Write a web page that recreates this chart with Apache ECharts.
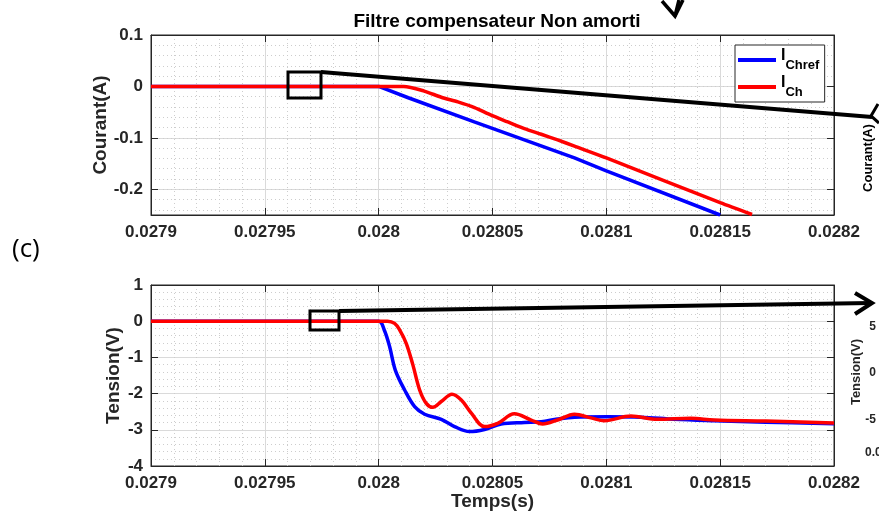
<!DOCTYPE html>
<html>
<head>
<meta charset="utf-8">
<script src="https://cdn.jsdelivr.net/npm/echarts@6/dist/echarts.min.js"></script>
<style>
  html, body { margin: 0; padding: 0; background: #fff; }
  #chart { width: 879px; height: 522px; }
</style>
</head>
<body>
<div id="chart"></div>
<script>
// ---------------- DATA ----------------
const titleText = 'Filtre compensateur Non amorti';
const xMin = 0.0279, xMax = 0.0282, xStep = 0.00005;
const courantMin = -0.25, courantMax = 0.1;
const tensionMin = -4, tensionMax = 1, tensionStep = 1;

// Courant : I_Chref (blue)
const tCourantRef = [0.0279, 0.02795, 0.028, 0.028013, 0.028042, 0.028086, 0.0281, 0.02815];
const iChref      = [0, 0, 0, -0.022, -0.069, -0.139, -0.164, -0.25];

// Courant : I_Ch (red)
const tCourantCh = [0.0279, 0.02795, 0.028, 0.028011, 0.02802, 0.0280275, 0.0280348, 0.0280421,
                    0.0280494, 0.0280567, 0.028064, 0.0280714, 0.0280786, 0.028086, 0.0281, 0.02815, 0.028164];
const iCh        = [0, 0, 0, 0, -0.009, -0.021, -0.030, -0.041,
                    -0.056, -0.069, -0.082, -0.093, -0.104, -0.116, -0.139, -0.226, -0.249];

// Tension : reference (blue)
const tTensionRef = [0.0279, 0.02795, 0.028, 0.0280025, 0.0280048, 0.0280073, 0.0280114, 0.0280158,
                     0.0280202, 0.0280275, 0.0280333, 0.0280399, 0.0280465, 0.0280538, 0.028064,
                     0.0280714, 0.0280786, 0.028086, 0.0281006, 0.0281152, 0.0281298, 0.0281474,
                     0.02817, 0.0282];
const vRef        = [0, 0, 0, -0.25, -0.70, -1.35, -1.90, -2.36,
                     -2.57, -2.71, -2.91, -3.05, -2.99, -2.84, -2.80,
                     -2.78, -2.70, -2.65, -2.64, -2.65, -2.71, -2.75,
                     -2.79, -2.83];

// Tension : charge (red)
const tTensionCh = [0.0279, 0.02795, 0.028, 0.0280039, 0.028007, 0.0280092, 0.0280121, 0.028015,
                    0.028018, 0.0280209, 0.0280238, 0.0280275, 0.0280322, 0.0280363, 0.0280407,
                    0.0280465, 0.0280523, 0.0280596, 0.028067, 0.028072, 0.0280786, 0.028086,
                    0.0280933, 0.0280991, 0.0281108, 0.0281225, 0.0281371, 0.0281474, 0.02817, 0.0282];
const vCh        = [0, 0, 0, 0, -0.06, -0.24, -0.61, -1.20,
                    -1.90, -2.27, -2.38, -2.22, -2.02, -2.18, -2.54,
                    -2.91, -2.82, -2.56, -2.73, -2.84, -2.73, -2.57,
                    -2.67, -2.75, -2.62, -2.71, -2.68, -2.73, -2.76, -2.81];

const legendNames = ['I_Chref', 'I_Ch'];
const legendSubs = { 'I_Chref': 'Chref', 'I_Ch': 'Ch' };
const axisNames = { courant: 'Courant(A)', tension: 'Tension(V)', temps: 'Temps(s)' };
const sideTexts = { courant: 'Courant(A)', tension: 'Tension(V)', ticks: ['5', '0', '-5'], cut: '0.0' };

// ---------------- HELPERS ----------------
const FONT = '"Liberation Sans", Arial, Helvetica, sans-serif';
const AXC = '#262626';
const pairs = (xs, ys) => xs.map((x, i) => [x, ys[i]]);
const fmt = v => {
  if (Math.abs(v - courantMin) < 1e-9) return '';
  return String(parseFloat(Number(v).toPrecision(6)));
};
const labelStyle = { color: AXC, fontSize: 17, fontWeight: 'bold', fontFamily: FONT };
const nameStyle = { color: AXC, fontSize: 19, fontWeight: 'bold', fontFamily: FONT };
const majorGrid = { show: true, lineStyle: { color: '#dadada', width: 1 } };
const minorGrid = { show: true, lineStyle: { color: '#cdcdcd', width: 1, type: [1, 3] } };

function xMain(gi, withName) {
  const a = {
    gridIndex: gi, type: 'value', min: xMin, max: xMax, interval: xStep, position: 'bottom',
    axisLine: { show: true, onZero: false, lineStyle: { color: AXC, width: 1 } },
    axisTick: { show: true, inside: true, length: 7, lineStyle: { color: AXC } },
    axisLabel: Object.assign({ margin: 9, formatter: fmt }, labelStyle),
    splitLine: majorGrid,
    minorTick: { show: false, splitNumber: 5 },
    minorSplitLine: minorGrid
  };
  if (withName) {
    a.name = axisNames.temps; a.nameLocation = 'middle'; a.nameGap = 26; a.nameTextStyle = nameStyle;
    a.nameMoveOverlap = false;
  }
  return a;
}
function xTop(gi) {
  return {
    gridIndex: gi, type: 'value', min: xMin, max: xMax, interval: xStep, position: 'top',
    axisLine: { show: true, onZero: false, lineStyle: { color: AXC, width: 1 } },
    axisTick: { show: true, inside: true, length: 7, lineStyle: { color: AXC } },
    axisLabel: { show: false }, splitLine: { show: false }
  };
}

const option = {
  animation: false,
  backgroundColor: '#fff',
  title: {
    text: titleText, left: 492, top: 7, textAlign: 'center',
    textStyle: { color: '#000', fontSize: 19, fontWeight: 'bold', fontFamily: FONT }
  },
  legend: {
    data: legendNames, left: 735, top: 45, orient: 'vertical',
    padding: [3, 5, 3, 3], itemGap: 3, itemWidth: 38, itemHeight: 4, icon: 'rect',
    backgroundColor: '#fff', borderColor: AXC, borderWidth: 1, borderRadius: 0,
    formatter: name => '{a|I}{b|' + legendSubs[name] + '}{c| }',
    textStyle: {
      fontFamily: FONT, fontWeight: 'bold', color: '#000',
      rich: {
        a: { fontSize: 16, fontWeight: 'bold', lineHeight: 15, verticalAlign: 'top', fontFamily: FONT, color: '#000' },
        b: { fontSize: 13, fontWeight: 'bold', lineHeight: 13, verticalAlign: 'bottom', fontFamily: FONT, color: '#000' },
        c: { fontSize: 1, lineHeight: 24, fontFamily: FONT }
      }
    }
  },
  grid: [
    { left: 151, top: 35, width: 683, height: 180, show: true, borderColor: AXC, borderWidth: 1, backgroundColor: '#fff' },
    { left: 151, top: 285, width: 683, height: 181, show: true, borderColor: AXC, borderWidth: 1, backgroundColor: '#fff' }
  ],
  xAxis: [xMain(0, false), xTop(0), xMain(1, true), xTop(1)],
  yAxis: [
    {
      gridIndex: 0, type: 'value', min: courantMin, max: courantMax, splitNumber: 4, position: 'left',
      name: axisNames.courant, nameLocation: 'middle', nameGap: 41, nameTextStyle: nameStyle, nameMoveOverlap: false,
      axisLine: { show: true, onZero: false, lineStyle: { color: AXC } },
      axisTick: { show: true, inside: true, length: 7, lineStyle: { color: AXC } },
      axisLabel: Object.assign({ margin: 8, formatter: fmt, showMinLabel: false }, labelStyle),
      splitLine: majorGrid
    },
    {
      gridIndex: 0, type: 'value', min: courantMin, max: courantMax, splitNumber: 4, position: 'right',
      axisLine: { show: true, onZero: false, lineStyle: { color: AXC } },
      axisTick: { show: true, inside: true, length: 7, lineStyle: { color: AXC } },
      axisLabel: { show: false }, splitLine: { show: false }
    },
    {
      gridIndex: 0, type: 'value', min: courantMin, max: courantMax, splitNumber: 17, position: 'left',
      axisLine: { show: false }, axisTick: { show: false }, axisLabel: { show: false },
      splitLine: minorGrid
    },
    {
      gridIndex: 1, type: 'value', min: tensionMin, max: tensionMax, interval: tensionStep, position: 'left',
      name: axisNames.tension, nameLocation: 'middle', nameGap: 28, nameTextStyle: nameStyle, nameMoveOverlap: false,
      axisLine: { show: true, onZero: false, lineStyle: { color: AXC } },
      axisTick: { show: true, inside: true, length: 7, lineStyle: { color: AXC } },
      axisLabel: Object.assign({ margin: 8, formatter: v => String(v) }, labelStyle),
      splitLine: majorGrid,
      minorTick: { show: false, splitNumber: 5 },
      minorSplitLine: minorGrid
    },
    {
      gridIndex: 1, type: 'value', min: tensionMin, max: tensionMax, interval: tensionStep, position: 'right',
      axisLine: { show: true, onZero: false, lineStyle: { color: AXC } },
      axisTick: { show: true, inside: true, length: 7, lineStyle: { color: AXC } },
      axisLabel: { show: false }, splitLine: { show: false }
    }
  ],
  series: [
    { name: 'I_Chref', type: 'line', xAxisIndex: 0, yAxisIndex: 0, data: pairs(tCourantRef, iChref),
      showSymbol: false, smooth: false, lineStyle: { color: '#0000ff', width: 3.5 }, itemStyle: { color: '#0000ff' } },
    { name: 'I_Ch', type: 'line', xAxisIndex: 0, yAxisIndex: 0, data: pairs(tCourantCh, iCh),
      showSymbol: false, smooth: 0.25, lineStyle: { color: '#ff0000', width: 3.5 }, itemStyle: { color: '#ff0000' } },
    { name: 'V_ref', type: 'line', xAxisIndex: 2, yAxisIndex: 3, data: pairs(tTensionRef, vRef),
      showSymbol: false, smooth: 0.35, lineStyle: { color: '#0000ff', width: 3.5 }, itemStyle: { color: '#0000ff' } },
    { name: 'V_ch', type: 'line', xAxisIndex: 2, yAxisIndex: 3, data: pairs(tTensionCh, vCh),
      showSymbol: false, smooth: 0.35, lineStyle: { color: '#ff0000', width: 3.5 }, itemStyle: { color: '#ff0000' } }
  ],
  graphic: [
    { type: 'text', x: 12, y: 250, z: 100,
      style: { text: '(c)', font: '26px "Open Sans", "Noto Sans", sans-serif', fill: '#000', align: 'left', verticalAlign: 'middle' } },
    { type: 'rect', z: 100, shape: { x: 288, y: 72, width: 33, height: 26 },
      style: { fill: 'none', stroke: '#000', lineWidth: 3 } },
    { type: 'polyline', z: 100, shape: { points: [[321, 72], [872, 117]] },
      style: { fill: 'none', stroke: '#000', lineWidth: 4 } },
    { type: 'polyline', z: 100, shape: { points: [[878, 104], [871, 116], [879, 123]] },
      style: { fill: 'none', stroke: '#000', lineWidth: 3 } },
    { type: 'polyline', z: 100, shape: { points: [[662, 1], [675, 16], [683, 0]] },
      style: { fill: 'none', stroke: '#000', lineWidth: 3.5 } },
    { type: 'polyline', z: 100, shape: { points: [[675, 16], [679, 0]] },
      style: { fill: 'none', stroke: '#000', lineWidth: 3.5 } },
    { type: 'rect', z: 100, shape: { x: 310, y: 311, width: 29, height: 19 },
      style: { fill: 'none', stroke: '#000', lineWidth: 3 } },
    { type: 'polyline', z: 100, shape: { points: [[339, 311], [871, 303]] },
      style: { fill: 'none', stroke: '#000', lineWidth: 4 } },
    { type: 'polyline', z: 100, shape: { points: [[855, 293], [872, 303], [855, 314]] },
      style: { fill: 'none', stroke: '#000', lineWidth: 4 } },
    { type: 'text', x: 868, y: 158, rotation: Math.PI / 2, z: 100,
      style: { text: sideTexts.courant, font: 'bold 13px ' + FONT, fill: '#000', align: 'center', verticalAlign: 'middle' } },
    { type: 'text', x: 856, y: 372, rotation: Math.PI / 2, z: 100,
      style: { text: sideTexts.tension, font: 'bold 13px ' + FONT, fill: AXC, align: 'center', verticalAlign: 'middle' } },
    { type: 'text', x: 876, y: 327, z: 100,
      style: { text: sideTexts.ticks[0], font: 'bold 12px ' + FONT, fill: AXC, align: 'right', verticalAlign: 'middle' } },
    { type: 'text', x: 876, y: 373, z: 100,
      style: { text: sideTexts.ticks[1], font: 'bold 12px ' + FONT, fill: AXC, align: 'right', verticalAlign: 'middle' } },
    { type: 'text', x: 876, y: 420, z: 100,
      style: { text: sideTexts.ticks[2], font: 'bold 12px ' + FONT, fill: AXC, align: 'right', verticalAlign: 'middle' } },
    { type: 'text', x: 865, y: 453, z: 100,
      style: { text: sideTexts.cut, font: 'bold 12px ' + FONT, fill: AXC, align: 'left', verticalAlign: 'middle' } }
  ]
};

const chart = echarts.init(document.getElementById('chart'), null, { renderer: 'canvas' });
chart.setOption(option);
</script>
</body>
</html>
